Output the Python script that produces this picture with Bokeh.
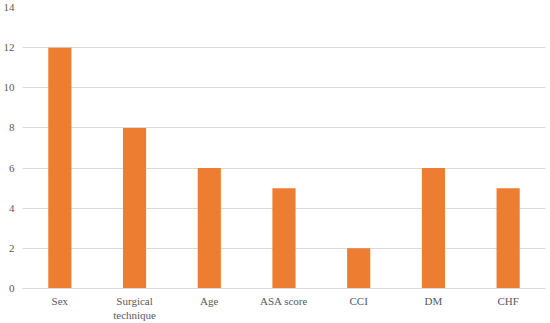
from bokeh.plotting import figure
from bokeh.models import FactorRange, Range1d, ColumnDataSource, FixedTicker
from bokeh.embed import file_html
from bokeh.resources import INLINE

categories = ["Sex", "Surgical\ntechnique", "Age", "ASA score", "CCI", "DM", "CHF"]
values = [12, 8, 6, 5, 2, 6, 5]
y_ticks = [0, 2, 4, 6, 8, 10, 12, 14]

src = ColumnDataSource(data=dict(cat=categories, val=values))

p = figure(width=550, height=323, x_range=FactorRange(factors=categories, range_padding=0),
           y_range=Range1d(0, 14), output_backend="svg", toolbar_location=None,
           min_border_left=22, min_border_right=5, min_border_top=7, min_border_bottom=34)
p.outline_line_color = None
p.vbar(x="cat", top="val", width=0.31, source=src, fill_color="#ED7D31", line_color=None)

p.xgrid.grid_line_color = None
p.ygrid.grid_line_color = "#D9D9D9"
p.ygrid.ticker = FixedTicker(ticks=y_ticks)
p.yaxis.ticker = FixedTicker(ticks=y_ticks)

font = "Liberation Serif, serif"
for ax in (p.xaxis[0], p.yaxis[0]):
    ax.major_tick_line_color = None
    ax.minor_tick_line_color = None
    ax.major_label_text_font = font
    ax.major_label_text_font_size = "11px"
    ax.major_label_text_color = "#595959"
p.yaxis.axis_line_color = None
p.xaxis.axis_line_color = "#D9D9D9"
p.yaxis.major_label_standoff = 2
p.xaxis.major_label_standoff = 0

open("out.html", "w").write(file_html(p, INLINE))
